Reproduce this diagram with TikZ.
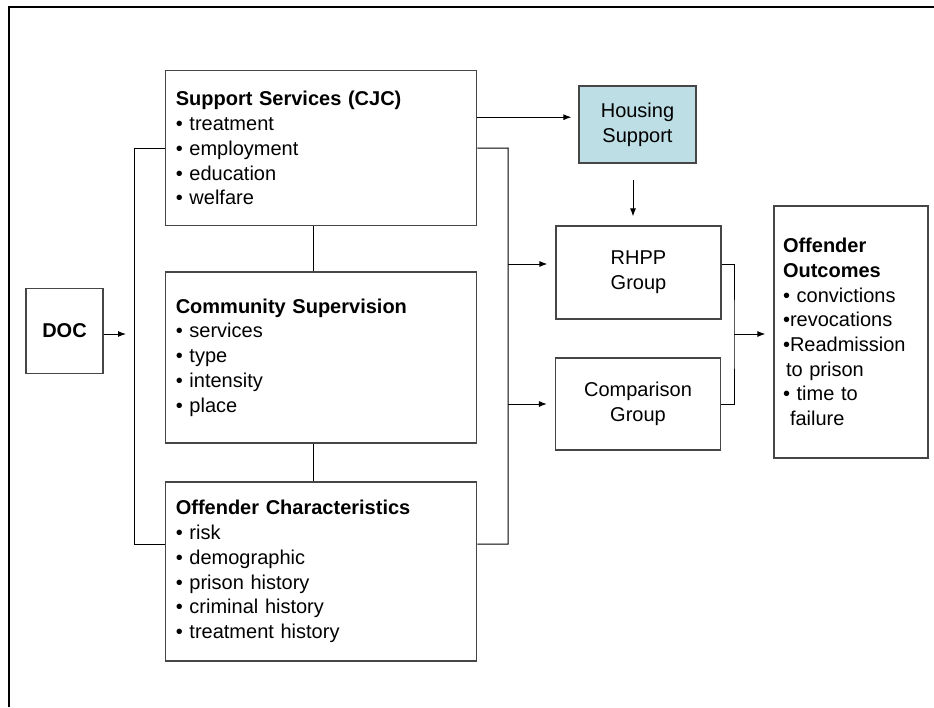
\documentclass[tikz,border=0pt]{standalone}
\usepackage{fontspec}
\setmainfont{Liberation Sans}
\definecolor{hsblue}{RGB}{188,222,228}
\definecolor{boxgray}{RGB}{70,70,70}
\usetikzlibrary{arrows.meta}

\begin{document}
\begin{tikzpicture}[x=1pt, y=-1pt,
    >={Latex[length=8pt,width=6pt]},
    every node/.style={font=\fontsize{20}{24.7}\selectfont},
    box/.style={draw=boxgray, line width=1.2pt, rectangle, inner xsep=10pt},
    listbox/.style={box, align=left, text width=291pt, minimum width=311pt},
    grpbox/.style={box, align=center, minimum width=165pt, minimum height=93pt},
    link/.style={line width=1pt}]
\useasboundingbox (0,0) rectangle (934,707);

% Frame
\draw[line width=2.5pt] (9,707) -- (9,7) -- (934,7);

% Input boxes
\node[box, minimum width=77pt, minimum height=85pt] (doc) at (64.5,331) {\textbf{DOC}};
\node[listbox, minimum height=155pt] (ss) at (321.3,148.2)
    {\textbf{Support Services (CJC)}\\• treatment\\• employment\\• education\\• welfare};
\node[listbox, minimum height=171pt] (cs) at (321.3,357.5)
    {\textbf{Community Supervision}\\• services\\• type\\• intensity\\• place};
\node[listbox, minimum height=179pt] (oc) at (321.3,571.5)
    {\textbf{Offender Characteristics}\\• risk\\• demographic\\• prison history\\• criminal history\\• treatment history};

% Groups
\node[box, fill=hsblue, align=center, minimum width=117pt, minimum height=77pt] (hs) at (637.5,124.5) {Housing\\Support};
\node[grpbox] (rhpp) at (638.5,272.5) {RHPP\\Group};
\node[grpbox, minimum height=92pt] (comp) at (638,404) {Comparison\\Group};

% Outcomes
\node[box, align=left, inner xsep=9pt, text width=136pt, minimum height=252pt] (outc) at (851,332)
    {\textbf{Offender}\\\textbf{Outcomes}\\• convictions\\•revocations\\•Readmission\\\hspace*{3pt}to prison\\• time to\\\hspace*{7pt}failure};

% Connector points
\coordinate (docend) at (126,334);
\coordinate (rb) at (508,148);
\coordinate (rb2) at (734,334);
\coordinate (hsin) at ([yshift=31pt]ss.east);
\coordinate (hsdown) at ([xshift=-4.5pt]hs.south);
\coordinate (rhppin) at ([yshift=8.5pt]rhpp.west);
\coordinate (rhppout) at ([yshift=8.5pt]rhpp.east);
\coordinate (ocleft) at ([yshift=27.5pt]oc.west);
\coordinate (ocright) at ([yshift=27.5pt]oc.east);

% Connectors
\draw[link, ->] (doc.east |- docend) -- (docend);
\draw[link] (ss.west) -- ++(-30.7,0) |- (ocleft);
\draw[link] (ss.east) -- (rb) |- (ocright);
\draw[link] ([xshift=-8pt]ss.south) -- ([xshift=-8pt]cs.north);
\draw[link] ([xshift=-8pt]cs.south) -- ([xshift=-8pt]oc.north);
\draw[link, ->, shorten >=7pt] (hsin) -- (hsin -| hs.west);
\draw[link, ->, shorten <=16pt, shorten >=9pt] (hsdown) -- (hsdown |- rhpp.north);
\draw[link, ->, shorten >=8pt] (rb |- rhppin) -- (rhppin);
\draw[link, ->, shorten >=8pt] (rb |- comp.west) -- (comp.west);
\draw[link] (rhppout) -| (rb2) |- (comp.east);
\draw[link, ->, shorten >=8pt] (rb2) -- (rb2 -| outc.west);
\end{tikzpicture}
\end{document}
